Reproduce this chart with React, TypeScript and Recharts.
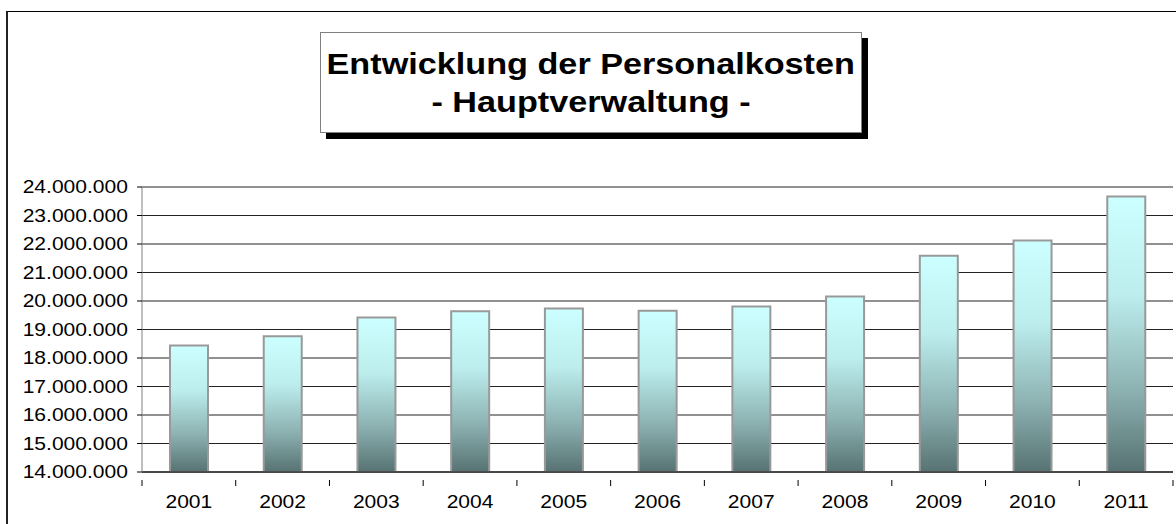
import { BarChart, Bar, XAxis, YAxis, CartesianGrid } from 'recharts'

const years = ['2001', '2002', '2003', '2004', '2005', '2006', '2007', '2008', '2009', '2010', '2011']
const personalkosten = [
  18440000, 18760000, 19420000, 19640000, 19740000, 19660000,
  19810000, 20160000, 21590000, 22120000, 23670000,
]
const yTicks = [
  14000000, 15000000, 16000000, 17000000, 18000000, 19000000,
  20000000, 21000000, 22000000, 23000000, 24000000,
]

const data = years.map((year, i) => ({ year, value: personalkosten[i] }))

const W = 1176
const H = 524
const PLOT_LEFT = 142
const PLOT_RIGHT = 1173
const band = (PLOT_RIGHT - PLOT_LEFT) / years.length
// the original text is a bit wider than Arial at the same height
const STRETCH = 1.17

// 24000000 -> "24.000.000"
const fmt = (v: number) => String(v).replace(/\B(?=(\d{3})+(?!\d))/g, '.')

const font = 'Arial, "Liberation Sans", sans-serif'

// Excel-style category ticks sit on the band boundaries, not on the centres
const XTick = (props: any) => {
  const { x, y, payload, index } = props
  const left = x - band / 2
  return (
    <g>
      <line x1={left} y1={y} x2={left} y2={y + 6} stroke="#000" />
      {index === years.length - 1 && (
        <line x1={x + band / 2} y1={y} x2={x + band / 2} y2={y + 6} stroke="#000" />
      )}
      <text
        transform={`translate(${x},${y + 28}) scale(${STRETCH},1)`}
        textAnchor="middle" fontSize={18} fill="#000" fontFamily={font}
      >
        {payload.value}
      </text>
    </g>
  )
}

const YTick = (props: any) => {
  const { x, y, payload } = props
  return (
    <text
      transform={`translate(${x},${y}) scale(${STRETCH},1)`}
      textAnchor="end" dominantBaseline="central" fontSize={18} fill="#000" fontFamily={font}
    >
      {fmt(payload.value)}
    </text>
  )
}

const App = () => {
  return (
    <div style={{ position: 'absolute', left: 0, top: 0, width: W, height: H, background: '#fff', overflow: 'hidden' }}>
      <div
        style={{
          position: 'absolute', left: 6, top: 11, width: W, height: H,
          borderTop: '1px solid #000', borderLeft: '2px solid #222', boxSizing: 'border-box',
        }}
      />
      <BarChart
        width={W}
        height={H}
        data={data}
        margin={{ top: 187, right: W - PLOT_RIGHT, bottom: 22, left: 0 }}
        barCategoryGap={0}
        style={{ position: 'absolute', left: 0, top: 0 }}
      >
        <defs>
          <linearGradient id="barFill" x1="0" y1="0" x2="0" y2="1">
            <stop offset="0%" stopColor="#ccffff" />
            <stop offset="35%" stopColor="#bdeeee" />
            <stop offset="70%" stopColor="#8db2b2" />
            <stop offset="100%" stopColor="#577272" />
          </linearGradient>
        </defs>
        <CartesianGrid vertical={false} stroke="#222" />
        <XAxis
          dataKey="year"
          height={30}
          axisLine={{ stroke: '#000' }}
          tickLine={false}
          tick={<XTick />}
          interval={0}
        />
        <YAxis
          width={PLOT_LEFT}
          domain={[14000000, 24000000]}
          ticks={yTicks}
          allowDataOverflow
          axisLine={{ stroke: '#808080' }}
          tickLine={{ stroke: '#000' }}
          tickSize={5}
          tickMargin={9}
          tick={<YTick />}
        />
        <Bar
          dataKey="value"
          barSize={38}
          fill="url(#barFill)"
          stroke="#999"
          strokeWidth={2}
          isAnimationActive={false}
        />
      </BarChart>
      <div
        style={{
          position: 'absolute', left: 320, top: 32, width: 542, height: 101,
          border: '1px solid #808080', background: '#fff', boxShadow: '6px 6px 0 #000',
          boxSizing: 'border-box', display: 'flex', flexDirection: 'column',
          justifyContent: 'center', alignItems: 'center',
          fontFamily: font, fontWeight: 'bold', fontSize: 30, lineHeight: '38px', color: '#000',
        }}
      >
        <div style={{ transform: 'scaleX(1.14)', whiteSpace: 'nowrap' }}>Entwicklung der Personalkosten</div>
        <div style={{ transform: 'scaleX(1.14)', whiteSpace: 'nowrap' }}>- Hauptverwaltung -</div>
      </div>
    </div>
  )
}

export default App
